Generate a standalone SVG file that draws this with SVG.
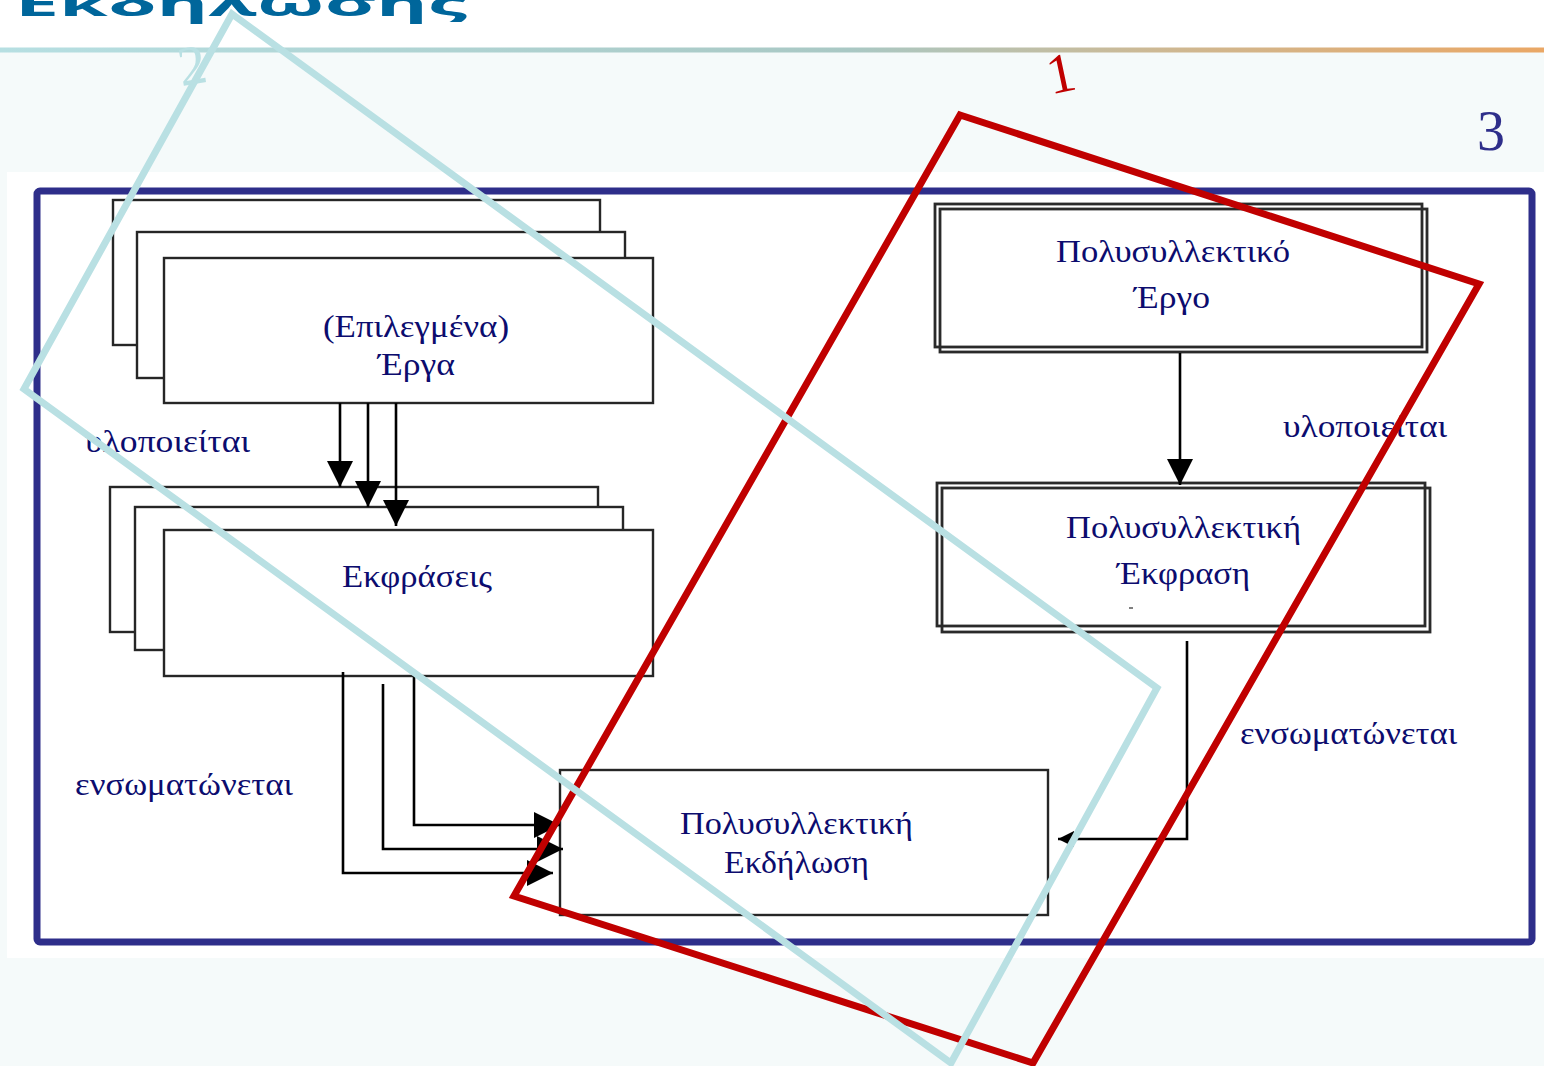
<svg xmlns="http://www.w3.org/2000/svg" width="1544" height="1066" viewBox="0 0 1544 1066">
<defs>
<linearGradient id="bar" x1="0" y1="0" x2="1" y2="0">
<stop offset="0" stop-color="#b6dfe2"/>
<stop offset="0.55" stop-color="#a9c8c4"/>
<stop offset="0.75" stop-color="#cdb893"/>
<stop offset="1" stop-color="#eaa765"/>
</linearGradient>
<marker id="ah" viewBox="0 0 10 10" refX="10" refY="5" markerUnits="userSpaceOnUse" markerWidth="27" markerHeight="26" orient="auto">
<path d="M0,0 L10,5 L0,10 z" fill="#000"/>
</marker>
<marker id="ahs" viewBox="0 0 10 10" refX="10" refY="5" markerUnits="userSpaceOnUse" markerWidth="17" markerHeight="16" orient="auto">
<path d="M0,0 L10,5 L0,10 z" fill="#000"/>
</marker>
</defs>
<style>
.bx{fill:#fff;stroke:#262626;stroke-width:2.4}
.dbl{fill:none;stroke:#2a2a2a;stroke-width:2.8}
.t{font-family:"Liberation Serif","DejaVu Serif",serif;font-size:31px;fill:#0c0c6e}
.c{fill:none;stroke:#000;stroke-width:2.6}
.ov{fill:none;stroke-width:7;stroke-linejoin:miter}
.num{font-family:"Liberation Serif","DejaVu Serif",serif;font-size:56px}
</style>
<rect x="0" y="0" width="1544" height="1066" fill="#fff"/>
<rect x="0" y="51" width="1544" height="1015" fill="#f5fafa"/>
<text transform="translate(15,16) scale(1,0.42)" font-family="'Open Sans','DejaVu Sans',sans-serif" font-weight="bold" font-size="80" fill="#00669b" textLength="452" lengthAdjust="spacingAndGlyphs">Εκδήλωσης</text>
<rect x="0" y="47.5" width="1544" height="5" fill="url(#bar)"/>
<rect x="7" y="172" width="1537" height="786" fill="#fff"/>
<rect x="37" y="191" width="1495" height="751" rx="3" fill="none" stroke="#2e2e8a" stroke-width="7"/>

<g id="node-erga">
<rect class="bx" x="113" y="200" width="487" height="145"/>
<rect class="bx" x="137" y="232" width="488" height="146"/>
<rect class="bx" x="164" y="258" width="489" height="145"/>
<text class="t" x="323" y="337" textLength="186" lengthAdjust="spacingAndGlyphs">(Επιλεγμένα)</text>
<text class="t" x="378" y="375" textLength="77" lengthAdjust="spacingAndGlyphs">Έργα</text>
</g>

<g id="node-ekfraseis">
<rect class="bx" x="110" y="487" width="488" height="145"/>
<rect class="bx" x="135" y="507" width="488" height="143"/>
<rect class="bx" x="164" y="530" width="489" height="146"/>
<text class="t" x="342" y="587" textLength="150" lengthAdjust="spacingAndGlyphs">Εκφράσεις</text>
</g>

<g id="node-ekdilosi">
<rect class="bx" x="560" y="770" width="488" height="145"/>
<text class="t" x="680" y="834" textLength="233" lengthAdjust="spacingAndGlyphs">Πολυσυλλεκτική</text>
<text class="t" x="724" y="873" textLength="145" lengthAdjust="spacingAndGlyphs">Εκδήλωση</text>
</g>

<g id="node-ergo">
<rect class="dbl" x="935" y="204" width="487" height="143" fill="#fff"/>
<rect class="dbl" x="940" y="209" width="487" height="143"/>
<text class="t" x="1056" y="262" textLength="234" lengthAdjust="spacingAndGlyphs">Πολυσυλλεκτικό</text>
<text class="t" x="1134" y="308" textLength="76" lengthAdjust="spacingAndGlyphs">Έργο</text>
</g>

<g id="node-ekfrasi">
<rect class="dbl" x="937" y="483" width="488" height="143" fill="#fff"/>
<rect class="dbl" x="942" y="488" width="488" height="144"/>
<text class="t" x="1066" y="538" textLength="235" lengthAdjust="spacingAndGlyphs">Πολυσυλλεκτική</text>
<text class="t" x="1117" y="584" textLength="133" lengthAdjust="spacingAndGlyphs">Έκφραση</text>
<line x1="1129" y1="608" x2="1133" y2="608" stroke="#555" stroke-width="1.5"/>
</g>

<g id="connectors">
<line class="c" x1="340" y1="403" x2="340" y2="487" marker-end="url(#ah)"/>
<line class="c" x1="368" y1="403" x2="368" y2="507" marker-end="url(#ah)"/>
<line class="c" x1="396" y1="403" x2="396" y2="526" marker-end="url(#ah)"/>
<polyline class="c" points="414,676 414,825 560,825" marker-end="url(#ah)"/>
<polyline class="c" points="383,684 383,849 563,849" marker-end="url(#ah)"/>
<polyline class="c" points="343,672 343,873 553,873" marker-end="url(#ah)"/>
<line class="c" x1="1180" y1="353" x2="1180" y2="485" marker-end="url(#ah)"/>
<polyline class="c" points="1187,641 1187,839 1058,839" marker-end="url(#ahs)"/>
</g>

<g id="labels">
<text class="t" x="85" y="452" textLength="165" lengthAdjust="spacingAndGlyphs">υλοποιείται</text>
<text class="t" x="75" y="795" textLength="218" lengthAdjust="spacingAndGlyphs">ενσωματώνεται</text>
<text class="t" x="1283" y="437" textLength="164" lengthAdjust="spacingAndGlyphs">υλοποιείται</text>
<text class="t" x="1240" y="744" textLength="217" lengthAdjust="spacingAndGlyphs">ενσωματώνεται</text>
</g>

<g id="overlays">
<polygon class="ov" stroke="#c00000" points="960,115 1479,284 1033,1063 514,896"/>
<polygon class="ov" stroke="#b9e0e3" points="232,14 1157,688 951,1063 24,389"/>
<text class="num" fill="#c00000" x="1061" y="92" text-anchor="middle" transform="rotate(-12 1061 74)">1</text>
<text class="num" fill="#b9e0e3" x="192" y="84" text-anchor="middle" transform="rotate(-10 192 65)">2</text>
<text class="num" fill="#2e2e8a" x="1491" y="150" text-anchor="middle">3</text>
</g>
</svg>
